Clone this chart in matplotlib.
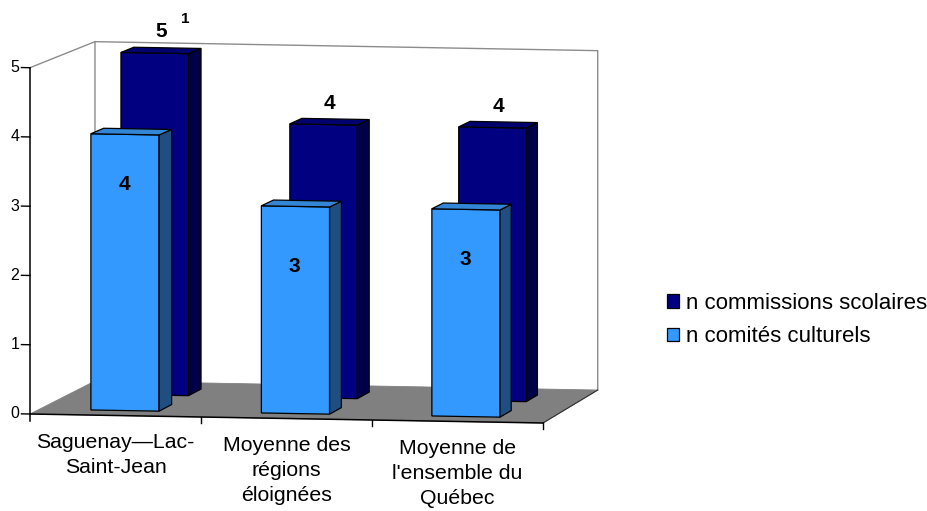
import matplotlib
matplotlib.use('Agg')
import matplotlib.pyplot as plt
from matplotlib.patches import Polygon, Patch

plt.rcParams['font.family'] = ['Liberation Sans', 'DejaVu Sans']

# ---------------- data ----------------
categories = ["Saguenay\u2014Lac-\nSaint-Jean",
              "Moyenne des\nrégions\néloignées",
              "Moyenne de\nl'ensemble du\nQuébec"]
series_names = ["n commissions scolaires", "n comités culturels"]
commissions = [5, 4, 4]
comites = [4, 3, 3]
footnotes = ["1", "", ""]
y_ticks = [0, 1, 2, 3, 4, 5]

# ---------------- style ----------------
navy = dict(front='#000080', side='#000048', top='#00006E')
light = dict(front='#3399FF', side='#1F4F82', top='#3385D6')
W, H, DPI = 9.28, 5.11, 100

# front plane: x data 0..3 -> px 30..543 ; y data 0..5 -> px 414..67.7
PX_X = 171.0
PX_Y = 69.26
fig = plt.figure(figsize=(W, H), dpi=DPI)
ax = fig.add_axes([0, 0, 1, 1])
ax.set_xlim(-30 / PX_X, (W * DPI - 30) / PX_X)
ax.set_ylim(-(H * DPI - 414) / PX_Y, 414 / PX_Y)
ax.axis('off')

# pseudo-3D projection (category, value, depth 0..1)
DX, DY = 0.38, 0.476
SLOPE = 0.0433


def P(c, v, d):
    x = c * (1 - 0.02 * d) + DX * d
    y = -SLOPE * c + DY * d + v * (1 - 0.02 * d)
    return (x, y)


ncat = len(categories)
vmax = max(y_ticks)

# floor
floor = [P(0, 0, 0), P(ncat, 0, 0), P(ncat, 0, 1), P(0, 0, 1)]
ax.add_patch(Polygon(floor, closed=True, facecolor='#808080',
                     edgecolor='#808080', lw=0.6, zorder=1))
ax.plot(*zip(P(ncat, 0, 0), P(ncat, 0, 1)), color='#303030', lw=0.8, zorder=1.5)
# back wall outline
wall = [P(0, 0, 1), P(0, vmax, 1), P(ncat, vmax, 1), P(ncat, 0, 1)]
ax.plot(*zip(*wall), color='#8C8C8C', lw=1.0, zorder=0.5)
# left wall top edge
ax.plot(*zip(P(0, vmax, 0), P(0, vmax, 1)), color='#8C8C8C', lw=1.0, zorder=0.5)

# axes lines
ax.plot(*zip(P(0, -0.1, 0), P(0, vmax, 0)), color='black', lw=1.1, zorder=5)
ax.plot(*zip(P(0, 0, 0), P(ncat, 0, 0)), color='black', lw=1.1, zorder=5)
for t in y_ticks:
    ax.plot(*zip(P(-0.05, t, 0), P(0, t, 0)), color='black', lw=1.0, zorder=5)
    x0, y0 = P(-0.062, t, 0)
    ax.text(x0, y0, str(t), ha='right', va='center', fontsize=11.5, zorder=6)
for i in range(1, ncat + 1):
    ax.plot(*zip(P(i, 0, 0), P(i, -0.09, 0)), color='black', lw=1.0, zorder=5)

# category labels
for i, lab in enumerate(categories):
    x0, y0 = P(i + 0.5, 0, 0)
    ax.text(x0, y0 - 0.25, lab, ha='center', va='top', fontsize=15.3,
            linespacing=1.4, zorder=6)


def draw_bar(c0, c1, d0, d1, v, col, z):
    front = [P(c0, 0, d0), P(c1, 0, d0), P(c1, v, d0), P(c0, v, d0)]
    side = [P(c1, 0, d0), P(c1, 0, d1), P(c1, v, d1), P(c1, v, d0)]
    top = [P(c0, v, d0), P(c1, v, d0), P(c1, v, d1), P(c0, v, d1)]
    for poly, fc in ((front, col['front']), (side, col['side']), (top, col['top'])):
        ax.add_patch(Polygon(poly, closed=True, facecolor=fc, edgecolor='black',
                             lw=0.9, joinstyle='miter', zorder=z))


BW0, BW1 = 0.3, 0.7
BACK = (0.62, 0.82)
FRONT = (0.15, 0.35)

# back row: commissions scolaires
for i, v in enumerate(commissions):
    draw_bar(i + BW0, i + BW1, BACK[0], BACK[1], v, navy, 2 + i * 0.1)
    tx, ty = P(i + 0.5, v, (BACK[0] + BACK[1]) / 2)
    ax.annotate(str(v), (tx, ty), xytext=(0, 9), textcoords='offset pixels',
                ha='center', va='bottom', fontsize=15, fontweight='bold', zorder=7)
    if footnotes[i]:
        ax.annotate(footnotes[i], (tx, ty), xytext=(24, 24), textcoords='offset pixels',
                    ha='center', va='bottom', fontsize=11, fontweight='bold', zorder=7)

# front row: comites culturels
label_drop_px = [50, 60, 50]
for i, v in enumerate(comites):
    draw_bar(i + BW0, i + BW1, FRONT[0], FRONT[1], v, light, 3 + i * 0.1)
    tx, ty = P(i + 0.5, v, FRONT[0])
    ax.annotate(str(v), (tx, ty), xytext=(-1, -label_drop_px[i]), textcoords='offset pixels',
                ha='center', va='center', fontsize=15, fontweight='bold', zorder=7)

# legend
handles = [Patch(facecolor=navy['front'], edgecolor='black', lw=0.9),
           Patch(facecolor=light['front'], edgecolor='black', lw=0.9)]
leg = fig.legend(handles, series_names, loc='center left',
                 bbox_to_anchor=(667 / (W * DPI), 1 - 320 / (H * DPI)),
                 frameon=False, fontsize=16, handlelength=0.55, handleheight=0.55,
                 handletextpad=0.3, labelspacing=0.55, borderpad=0, borderaxespad=0)

fig.savefig('out.png', dpi=DPI)
